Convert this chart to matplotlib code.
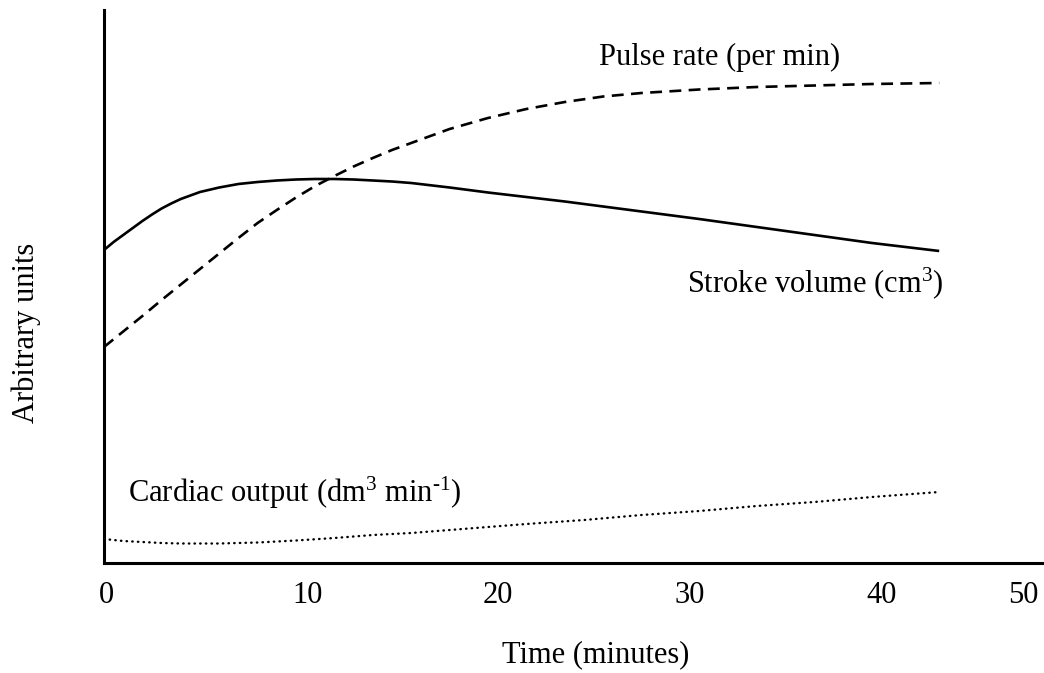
import matplotlib
matplotlib.use("Agg")
import matplotlib.pyplot as plt

plt.rcParams['font.family'] = ['Liberation Serif', 'DejaVu Serif']
plt.rcParams['mathtext.fontset'] = 'custom'
plt.rcParams['mathtext.rm'] = 'Liberation Serif'
plt.rcParams['mathtext.it'] = 'Liberation Serif'

# time (minutes) and arbitrary-unit values
t_stroke = [0, 0.5, 1, 1.5, 2, 2.5, 3, 3.5, 4, 5, 6, 7, 8, 9, 10, 11, 12, 13, 14, 15,
            16, 18, 20, 22, 24, 26, 28, 31, 34, 37, 40, 43.5]
stroke = [31.3, 32.1, 32.8, 33.5, 34.2, 34.85, 35.45, 35.95, 36.4, 37.1, 37.55, 37.9,
          38.1, 38.25, 38.35, 38.4, 38.4, 38.35, 38.25, 38.15, 38.0, 37.55, 37.05,
          36.6, 36.15, 35.65, 35.15, 34.4, 33.6, 32.8, 32.0, 31.2]

t_pulse = [0, 1, 2, 3, 4, 5, 6, 7, 8, 9, 10, 11, 12, 13, 14, 15, 16, 18, 20, 22, 24,
           26, 28, 31, 34, 37, 40, 43.5]
pulse = [21.6, 23.15, 24.7, 26.3, 27.85, 29.4, 30.95, 32.5, 34.0, 35.3, 36.55, 37.7,
         38.7, 39.65, 40.5, 41.3, 42.0, 43.4, 44.5, 45.4, 46.1, 46.65, 47.0, 47.35,
         47.6, 47.75, 47.9, 48.0]

t_cardiac = [0, 1, 2, 3, 4, 5, 6, 8, 10, 12, 14, 16, 18, 20, 22, 25, 28, 31, 34, 37,
             40, 43.5]
cardiac = [2.4, 2.2, 2.1, 2.0, 1.95, 1.95, 1.95, 2.05, 2.25, 2.5, 2.8, 3.0,
           3.3, 3.6, 3.9, 4.3, 4.8, 5.2, 5.7, 6.1, 6.6, 7.1]

tick_pos = [0.15, 10.6, 20.5, 30.5, 40.5, 47.9]
tick_labels = ['0', '10', '20', '30', '40', '50']

fig = plt.figure(figsize=(10.44, 6.73), dpi=100)
ax = fig.add_axes([104 / 1044, 110 / 673, 940 / 1044, 553 / 673])

ax.plot(t_stroke, stroke, color='black', lw=1.9, solid_capstyle='butt')
ax.plot(t_pulse, pulse, color='black', lw=1.9, dashes=(4.5, 2.8))
ax.plot(t_cardiac, cardiac, color='black', lw=1.7, dashes=(0.2, 2.2),
        dash_capstyle='round')

ax.set_xlim(0, 940 / 19.2)
ax.set_ylim(0, 55.3)

ax.spines['top'].set_visible(False)
ax.spines['right'].set_visible(False)
ax.spines['left'].set_linewidth(2.2)
ax.spines['bottom'].set_linewidth(2.2)

fs = 22
ax.set_yticks([])
ax.set_xticks(tick_pos)
ax.set_xticklabels(tick_labels, fontsize=fs)
ax.tick_params(axis='x', length=0, pad=13)

ax.text(25.8, 50.6, 'Pulse rate (per min)', fontsize=fs, ha='left', va='center')
ax.text(43.7, 28.0, r'Stroke volume (cm$^{3}$)', fontsize=fs, ha='right', va='center')
ax.text(1.25, 7.0, r'Cardiac output (dm$^{3}$ min$^{\text{-1}}$)', fontsize=fs,
        ha='left', va='center')

fig.text(596 / 1044, 1 - 655 / 673, 'Time (minutes)', fontsize=fs, ha='center', va='center')
fig.text(26 / 1044, 1 - 333 / 673, 'Arbitrary units', fontsize=fs, ha='center', va='center',
         rotation=90)

fig.savefig('out.png', dpi=100)
